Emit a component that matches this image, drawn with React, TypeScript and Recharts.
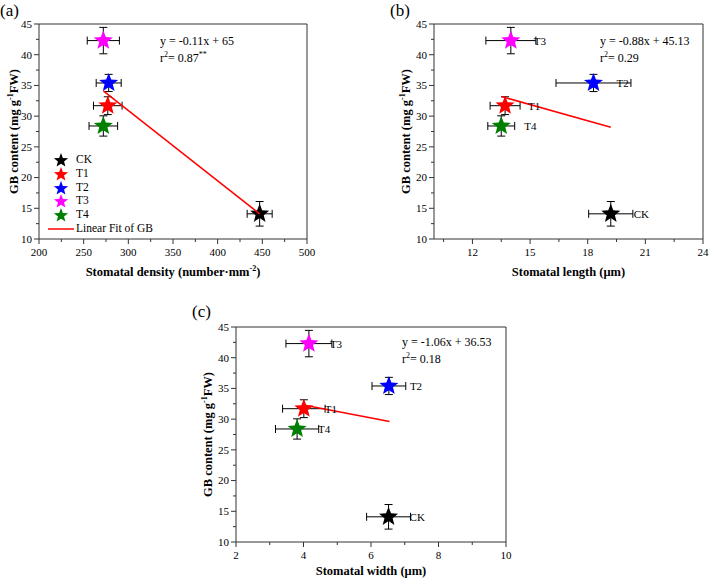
import React from 'react';
import {
  ScatterChart,
  Scatter,
  XAxis,
  YAxis,
  ErrorBar,
  ReferenceLine,
  Legend,
  LabelList,
  Label,
} from 'recharts';

const FONT = "'Liberation Serif', 'Times New Roman', Times, serif";
const AXIS_COLOR = '#333333';

// ---- data ----
const treatments = ['CK', 'T1', 'T2', 'T3', 'T4'];
const treatmentColors = ['#000000', '#ff0000', '#0000ff', '#ff00ff', '#008000'];
const gbContent = [14.1, 31.7, 35.4, 42.3, 28.4];
const gbError = [2.0, 1.45, 1.4, 2.15, 1.65];

const stomatalDensity = [447, 277, 278, 272, 272];
const densityError = [14, 16, 14, 18, 16];
const stomatalLength = [19.2, 13.7, 18.3, 14.0, 13.5];
const lengthError = [1.15, 0.78, 1.95, 1.3, 0.7];
const stomatalWidth = [6.52, 4.01, 6.53, 4.16, 3.81];
const widthError = [0.65, 0.63, 0.5, 0.68, 0.64];

const fitDensity = [
  { x: 272, y: 34.1 },
  { x: 447, y: 14.1 },
];
const fitLength = [
  { x: 13.5, y: 33.2 },
  { x: 19.2, y: 28.2 },
];
const fitWidth = [
  { x: 4.0, y: 32.3 },
  { x: 6.55, y: 29.6 },
];

const yMajorTicks = [10, 15, 20, 25, 30, 35, 40, 45];
const yMinorTicks = [12.5, 17.5, 22.5, 27.5, 32.5, 37.5, 42.5];
const densityMajorTicks = [200, 250, 300, 350, 400, 450, 500];
const densityMinorTicks = [225, 275, 325, 375, 425, 475];
const lengthMajorTicks = [12, 15, 18, 21, 24];
const lengthMinorTicks = [10.5, 13.5, 16.5, 19.5, 22.5];
const widthMajorTicks = [2, 4, 6, 8, 10];
const widthMinorTicks = [3, 5, 7, 9];

const equations = {
  a: { eq: 'y = -0.11x + 65', r2: '0.87', sig: '**' },
  b: { eq: 'y = -0.88x + 45.13', r2: '0.29', sig: '' },
  c: { eq: 'y = -1.06x + 36.53', r2: '0.18', sig: '' },
};

// ---- helpers ----
function starPoints(cx: number, cy: number, R: number, r: number) {
  const pts: string[] = [];
  for (let i = 0; i < 10; i++) {
    const a = -Math.PI / 2 + (i * Math.PI) / 5;
    const rad = i % 2 === 0 ? R : r;
    pts.push(`${cx + rad * Math.cos(a)},${cy + rad * Math.sin(a)}`);
  }
  return pts.join(' ');
}

const StarShape = (props: any) => {
  const { cx, cy, fill } = props;
  if (cx == null || cy == null) return <g />;
  return <polygon points={starPoints(cx, cy, 10, 4.3)} fill={fill} />;
};

const NoShape = () => <g />;

const makeXTick = (majors: number[]) => (props: any) => {
  const { x, y, payload } = props;
  const major = majors.includes(payload.value);
  return (
    <g>
      <line x1={x} x2={x} y1={y} y2={y + (major ? 5 : 3)} stroke={AXIS_COLOR} strokeWidth={1} />
      {major && (
        <text x={x} y={y + 17} textAnchor="middle" fontSize={11} fontFamily={FONT} fill="#000">
          {payload.value}
        </text>
      )}
    </g>
  );
};

const YTick = (props: any) => {
  const { x, y, payload } = props;
  const major = yMajorTicks.includes(payload.value);
  return (
    <g>
      <line x1={x} x2={x - (major ? 5 : 3)} y1={y} y2={y} stroke={AXIS_COLOR} strokeWidth={1} />
      {major && (
        <text x={x - 7} y={y} dy="0.35em" textAnchor="end" fontSize={11} fontFamily={FONT} fill="#000">
          {payload.value}
        </text>
      )}
    </g>
  );
};

const makeYTitle = (dx: number) => (props: any) => {
  const vb = props.viewBox || {};
  const tx = vb.x + dx;
  const ty = vb.y + vb.height / 2;
  return (
    <text
      x={tx}
      y={ty}
      transform={`rotate(-90 ${tx} ${ty})`}
      textAnchor="middle"
      fontSize={12.5}
      fontWeight="bold"
      fontFamily={FONT}
      fill="#000"
    >
      <tspan dy="0.35em">GB content (mg g</tspan>
      <tspan dy={-5} fontSize={8}>-1</tspan>
      <tspan dy={5}>FW)</tspan>
    </text>
  );
};

const makeXTitle = (main: string, sup: string, tail: string, dy: number) => (props: any) => {
  const vb = props.viewBox || {};
  const tx = vb.x + vb.width / 2;
  const ty = vb.y + dy;
  return (
    <text x={tx} y={ty} textAnchor="middle" fontSize={12.5} fontWeight="bold" fontFamily={FONT} fill="#000">
      <tspan>{main}</tspan>
      {sup && (
        <tspan dy={-5} fontSize={8}>
          {sup}
        </tspan>
      )}
      {tail && <tspan dy={sup ? 5 : 0}>{tail}</tspan>}
    </text>
  );
};

const makePointLabel = (offset: number) => (props: any) => {
  const { x, y, width, height, value } = props;
  const cx = x + (width || 0) / 2;
  const cy = y + (height || 0) / 2;
  return (
    <text x={cx + offset} y={cy + 4} fontSize={11} fontFamily={FONT} fill="#000">
      {value}
    </text>
  );
};

const LegendContent = (props: any) => {
  const raw = (props.payload || []) as any[];
  const payload = [
    ...raw.filter((e) => e.type !== 'line'),
    ...raw.filter((e) => e.type === 'line'),
  ];
  return (
    <div style={{ fontFamily: FONT, fontSize: 11.5, color: '#000', lineHeight: '13.8px' }}>
      {payload.map((entry, i) => {
        const isLine = entry.type === 'line';
        const color = entry.color || (entry.payload && entry.payload.fill) || '#000';
        return (
          <div key={i} style={{ display: 'flex', alignItems: 'center', height: 13.8 }}>
            <svg width={28} height={14} style={{ display: 'block' }}>
              {isLine ? (
                <line x1={2} x2={28} y1={7} y2={7} stroke="#ff0000" strokeWidth={1.5} />
              ) : (
                <polygon points={starPoints(15, 7.5, 7.5, 3.2)} fill={color} />
              )}
            </svg>
            <span style={{ marginLeft: 2 }}>{entry.value}</span>
          </div>
        );
      })}
    </div>
  );
};

type PanelProps = {
  xValues: number[];
  xErrors: number[];
  xDomain: [number, number];
  xMajor: number[];
  xMinor: number[];
  fit: { x: number; y: number }[];
  xTitle: [string, string, string];
  xTitleDy: number;
  yTitleDx: number;
  showLegend: boolean;
  showLabels: boolean;
  labelOffset: number;
  width: number;
  height: number;
  margin: { top: number; right: number; bottom: number; left: number };
  yAxisWidth: number;
  xAxisHeight: number;
};

function Panel(p: PanelProps) {
  const xTicks = [...p.xMajor, ...p.xMinor].sort((a, b) => a - b);
  const yTicks = [...yMajorTicks, ...yMinorTicks].sort((a, b) => a - b);
  return (
    <ScatterChart width={p.width} height={p.height} margin={p.margin}>
      <XAxis
        type="number"
        dataKey="x"
        domain={p.xDomain}
        ticks={xTicks}
        interval={0}
        tickSize={0}
        tickMargin={0}
        tick={makeXTick(p.xMajor)}
        tickLine={false}
        axisLine={{ stroke: AXIS_COLOR, strokeWidth: 1 }}
        height={p.xAxisHeight}
        allowDataOverflow
      >
        <Label content={makeXTitle(p.xTitle[0], p.xTitle[1], p.xTitle[2], p.xTitleDy)} />
      </XAxis>
      <YAxis
        type="number"
        dataKey="y"
        domain={[10, 45]}
        ticks={yTicks}
        interval={0}
        tickSize={0}
        tickMargin={0}
        tick={YTick}
        tickLine={false}
        axisLine={{ stroke: AXIS_COLOR, strokeWidth: 1 }}
        width={p.yAxisWidth}
        allowDataOverflow
      >
        <Label content={makeYTitle(p.yTitleDx)} />
      </YAxis>
      <ReferenceLine x={p.xDomain[1]} stroke={AXIS_COLOR} strokeWidth={1} ifOverflow="visible" />
      <ReferenceLine y={45} stroke={AXIS_COLOR} strokeWidth={1} ifOverflow="visible" />
      {treatments.map((t, i) => (
        <Scatter
          key={t}
          name={t}
          data={[
            {
              x: p.xValues[i],
              y: gbContent[i],
              xerr: p.xErrors[i],
              yerr: gbError[i],
              name: t,
            },
          ]}
          fill={treatmentColors[i]}
          shape={StarShape}
          legendType="star"
          isAnimationActive={false}
        >
          <ErrorBar dataKey="xerr" direction="x" width={4} stroke="#000" strokeWidth={1} />
          <ErrorBar dataKey="yerr" direction="y" width={4} stroke="#000" strokeWidth={1} />
          {p.showLabels && <LabelList dataKey="name" content={makePointLabel(p.labelOffset)} />}
        </Scatter>
      ))}
      <Scatter
        name="Linear Fit of GB"
        data={p.fit}
        fill="#ff0000"
        line={{ stroke: '#ff0000', strokeWidth: 1.5 }}
        shape={NoShape}
        legendType="line"
        isAnimationActive={false}
      />
      {p.showLegend && (
        <Legend
          layout="vertical"
          align="center"
          verticalAlign="middle"
          content={LegendContent}
          wrapperStyle={{ left: 46, top: 153, width: 120 }}
        />
      )}
    </ScatterChart>
  );
}

const EqText = ({ x, y, eq }: { x: number; y: number; eq: { eq: string; r2: string; sig: string } }) => (
  <g fontFamily={FONT} fontSize={12} fill="#000">
    <text x={x} y={y}>{eq.eq}</text>
    <text x={x} y={y + 17}>
      <tspan>r</tspan>
      <tspan dy={-5} fontSize={8}>2</tspan>
      <tspan dy={5}>= {eq.r2}</tspan>
      {eq.sig && (
        <tspan dy={-5} fontSize={8}>
          {eq.sig}
        </tspan>
      )}
    </text>
  </g>
);

export default function App() {
  return (
    <div style={{ position: 'absolute', left: 0, top: 0, width: 709, height: 580, background: '#fff' }}>
      <div style={{ position: 'absolute', left: 0, top: 0 }}>
        <Panel
          xValues={stomatalDensity}
          xErrors={densityError}
          xDomain={[200, 500]}
          xMajor={densityMajorTicks}
          xMinor={densityMinorTicks}
          fit={fitDensity}
          xTitle={['Stomatal density (number·mm', '-2', ')']}
          xTitleDy={37}
          yTitleDx={14}
          showLegend
          showLabels={false}
          labelOffset={22}
          width={320}
          height={290}
          margin={{ top: 24, right: 13, bottom: 0, left: 0 }}
          yAxisWidth={39}
          xAxisHeight={51}
        />
      </div>
      <div style={{ position: 'absolute', left: 395, top: 0 }}>
        <Panel
          xValues={stomatalLength}
          xErrors={lengthError}
          xDomain={[10, 24]}
          xMajor={lengthMajorTicks}
          xMinor={lengthMinorTicks}
          fit={fitLength}
          xTitle={['Stomatal length (μm)', '', '']}
          xTitleDy={37}
          yTitleDx={11}
          showLegend={false}
          showLabels
          labelOffset={23}
          width={314}
          height={290}
          margin={{ top: 24, right: 6, bottom: 0, left: 0 }}
          yAxisWidth={39}
          xAxisHeight={51}
        />
      </div>
      <div style={{ position: 'absolute', left: 190, top: 295 }}>
        <Panel
          xValues={stomatalWidth}
          xErrors={widthError}
          xDomain={[2, 10]}
          xMajor={widthMajorTicks}
          xMinor={widthMinorTicks}
          fit={fitWidth}
          xTitle={['Stomatal width (μm)', '', '']}
          xTitleDy={33}
          yTitleDx={18}
          showLegend={false}
          showLabels
          labelOffset={21}
          width={330}
          height={285}
          margin={{ top: 32, right: 14, bottom: 0, left: 0 }}
          yAxisWidth={46}
          xAxisHeight={38}
        />
      </div>
      <svg
        width={709}
        height={580}
        style={{ position: 'absolute', left: 0, top: 0, pointerEvents: 'none' }}
      >
        <g fontFamily={FONT} fontSize={17} fill="#000">
          <text x={0} y={16}>(a)</text>
          <text x={390} y={16}>(b)</text>
          <text x={192} y={317}>(c)</text>
        </g>
        <EqText x={160} y={45} eq={equations.a} />
        <EqText x={600} y={45} eq={equations.b} />
        <EqText x={402} y={346} eq={equations.c} />
      </svg>
    </div>
  );
}
